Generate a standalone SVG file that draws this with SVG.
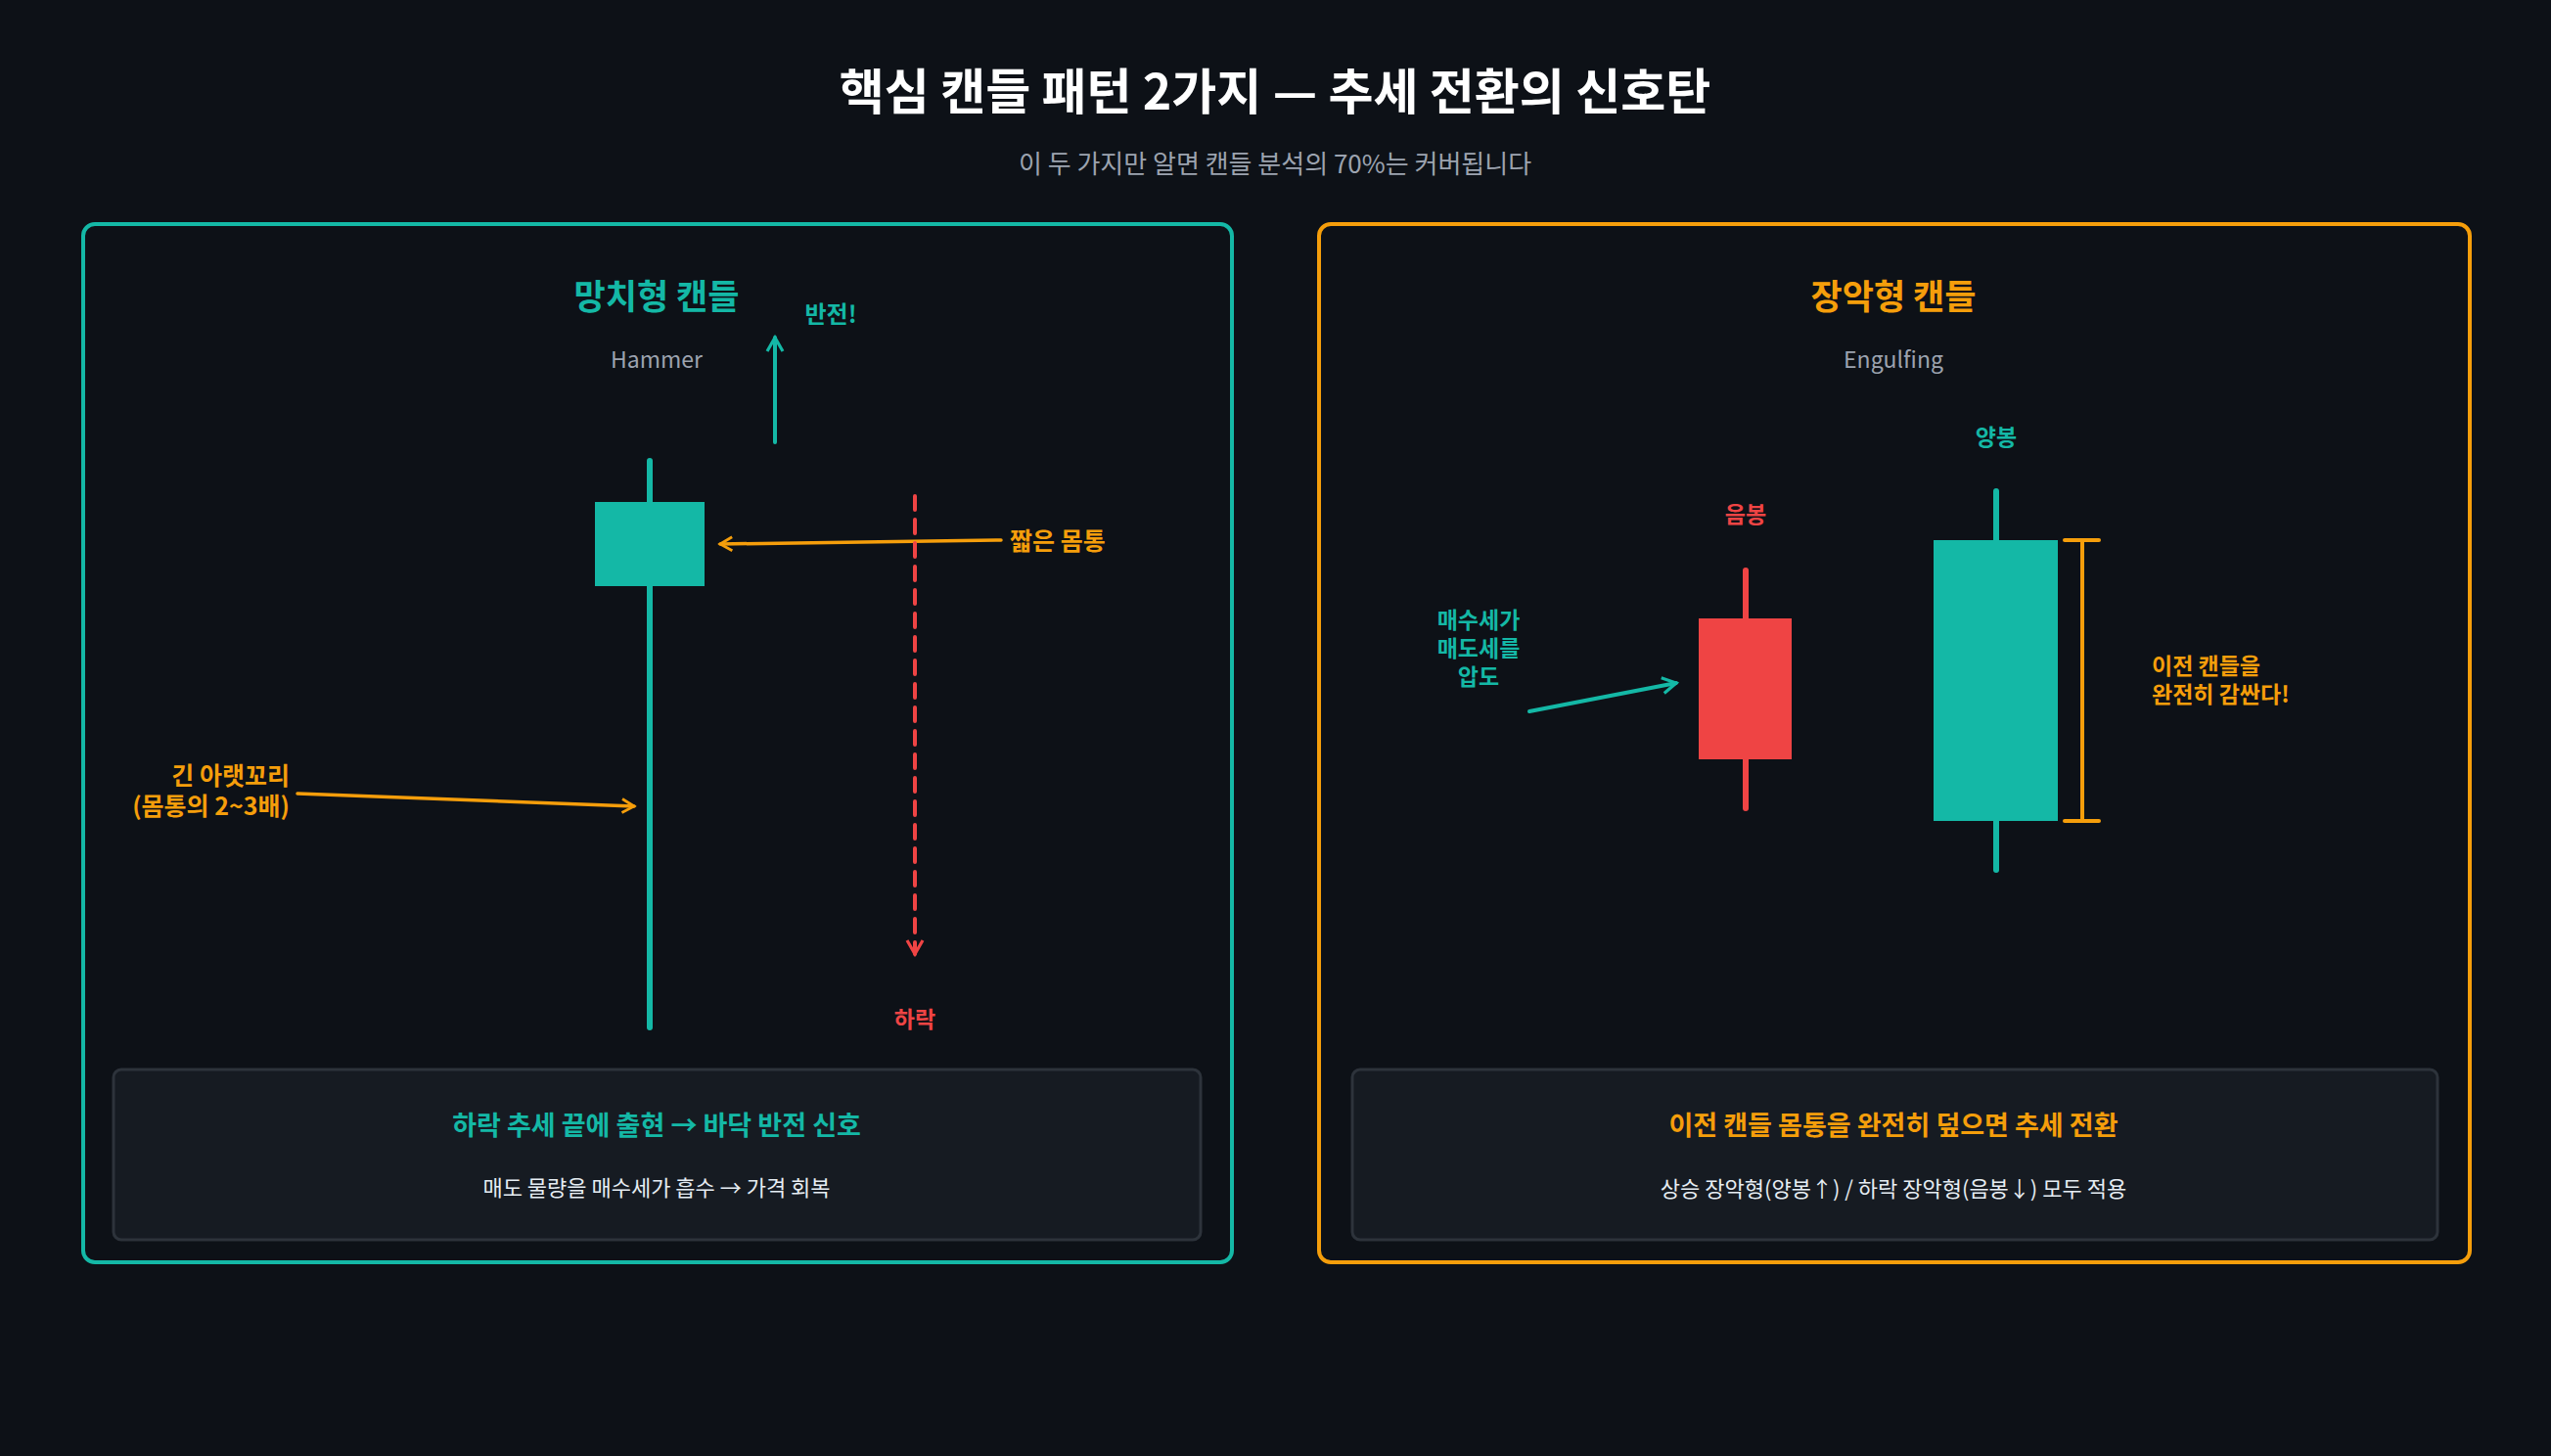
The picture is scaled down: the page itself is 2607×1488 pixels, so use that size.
<svg xmlns="http://www.w3.org/2000/svg" width="2607" height="1488" viewBox="0 0 2607 1488">
<style>
text{font-family:"Noto Sans CJK KR","Noto Sans",sans-serif;text-anchor:middle;dominant-baseline:central}
.b{font-weight:700}
.t{fill:#14b8a6}.o{fill:#f59e0b}.r{fill:#ef4444}.g{fill:#9ca3af}.w{fill:#e6edf3}
.box{fill:#161b22;stroke:#2d333b;stroke-width:3}
</style>
<defs>
<marker id="at" viewBox="0 0 10 10" refX="8" refY="5" markerWidth="5" markerHeight="5" orient="auto"><path d="M1,1 L8,5 L1,9" fill="none" stroke="#14b8a6" stroke-width="1.6"/></marker>
<marker id="ao" viewBox="0 0 10 10" refX="8" refY="5" markerWidth="5" markerHeight="5" orient="auto"><path d="M1,1 L8,5 L1,9" fill="none" stroke="#f59e0b" stroke-width="1.6"/></marker>
<marker id="ar" viewBox="0 0 10 10" refX="8" refY="5" markerWidth="5" markerHeight="5" orient="auto"><path d="M1,1 L8,5 L1,9" fill="none" stroke="#ef4444" stroke-width="1.6"/></marker>
</defs>
<rect width="2607" height="1488" fill="#0d1117"/>
<g id="header">
<text x="1303" y="90" class="b" font-size="50" fill="#ffffff">핵심 캔들 패턴 2가지 — 추세 전환의 신호탄</text>
<text x="1303" y="165" font-size="26" class="g">이 두 가지만 알면 캔들 분석의 70%는 커버됩니다</text>
</g>
<g id="hammer-panel">
<rect x="85" y="229" width="1174" height="1061" rx="12" fill="none" stroke="#14b8a6" stroke-width="4"/>
<text x="671" y="300" class="b t" font-size="35">망치형 캔들</text>
<text x="671" y="366" class="g" font-size="23">Hammer</text>
</g>
<g id="hammer-candle">
<line x1="664" y1="471" x2="664" y2="1050" stroke="#14b8a6" stroke-width="6" stroke-linecap="round"/>
<rect x="608" y="513" width="112" height="86" fill="#14b8a6"/>
</g>
<g id="hammer-labels">
<text x="849" y="319" class="b t" font-size="24">반전!</text>
<text x="1032" y="551" class="b o" font-size="25" style="text-anchor:start">짧은 몸통</text>
<text x="935" y="1040" class="b r" font-size="23">하락</text>
<text x="296" y="791" class="b o" font-size="25" style="text-anchor:end">긴 아랫꼬리</text>
<text x="296" y="822" class="b o" font-size="25" style="text-anchor:end">(몸통의 2~3배)</text>
</g>
<g id="hammer-summary">
<rect x="116" y="1093" width="1111" height="174" rx="8" class="box"/>
<text x="671" y="1148" class="b t" font-size="27">하락 추세 끝에 출현 → 바닥 반전 신호</text>
<text x="671" y="1212" class="w" font-size="22">매도 물량을 매수세가 흡수 → 가격 회복</text>
</g>
<g id="engulf-panel">
<rect x="1348" y="229" width="1176" height="1061" rx="12" fill="none" stroke="#f59e0b" stroke-width="4"/>
<text x="1935" y="300" class="b o" font-size="35">장악형 캔들</text>
<text x="1935" y="366" class="g" font-size="23">Engulfing</text>
</g>
<g id="bear-candle">
<line x1="1784" y1="583" x2="1784" y2="826" stroke="#ef4444" stroke-width="6" stroke-linecap="round"/>
<rect x="1736" y="632" width="95" height="144" fill="#ef4444"/>
<text x="1784" y="524" class="b r" font-size="23">음봉</text>
</g>
<g id="bull-candle">
<line x1="2040" y1="502" x2="2040" y2="889" stroke="#14b8a6" stroke-width="6" stroke-linecap="round"/>
<rect x="1976" y="552" width="127" height="287" fill="#14b8a6"/>
<text x="2040" y="445" class="b t" font-size="23">양봉</text>
</g>
<g id="engulf-labels">
<text x="1511" y="632" class="b t" font-size="23">매수세가</text>
<text x="1511" y="661" class="b t" font-size="23">매도세를</text>
<text x="1511" y="690" class="b t" font-size="23">압도</text>
<text x="2199" y="679" class="b o" font-size="23" style="text-anchor:start">이전 캔들을</text>
<text x="2199" y="708" class="b o" font-size="23" style="text-anchor:start">완전히 감싼다!</text>
</g>
<g id="engulf-summary">
<rect x="1382" y="1093" width="1109" height="174" rx="8" class="box"/>
<text x="1935" y="1148" class="b o" font-size="27">이전 캔들 몸통을 완전히 덮으면 추세 전환</text>
<text x="1935" y="1213" class="w" font-size="22">상승 장악형(양봉↑) / 하락 장악형(음봉↓) 모두 적용</text>
</g>
<g id="connectors" fill="none" stroke-width="4" stroke-linecap="round">
<line x1="792" y1="452" x2="792" y2="345" stroke="#14b8a6" marker-end="url(#at)"/>
<line x1="1023" y1="552" x2="736" y2="556" stroke="#f59e0b" stroke-width="3.5" marker-end="url(#ao)"/>
<line x1="935" y1="507" x2="935" y2="975" stroke="#ef4444" stroke-dasharray="14,10" marker-end="url(#ar)"/>
<line x1="304" y1="811" x2="648" y2="824" stroke="#f59e0b" stroke-width="3.5" marker-end="url(#ao)"/>
<line x1="1563" y1="727" x2="1713" y2="698" stroke="#14b8a6" marker-end="url(#at)"/>
<g stroke="#f59e0b" stroke-width="4">
<line x1="2128" y1="552" x2="2128" y2="839"/>
<line x1="2110" y1="552" x2="2145" y2="552"/>
<line x1="2110" y1="839" x2="2145" y2="839"/>
</g>
</g>
</svg>
